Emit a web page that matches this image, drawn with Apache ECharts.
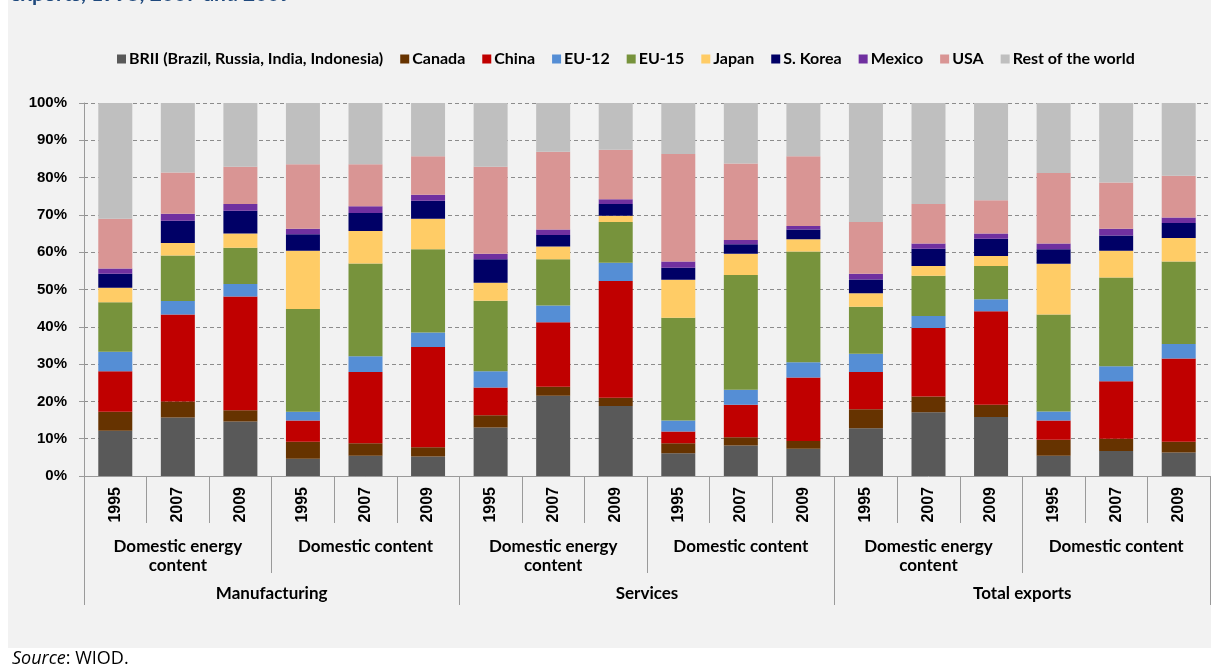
<!DOCTYPE html>
<html>
<head>
<meta charset="UTF-8">
<title>Domestic content of exports</title>
<script type="text/javascript" src="https://cdn.jsdelivr.net/npm/echarts@6/dist/echarts.min.js"></script>
<style>
  html,body{margin:0;padding:0;background:#fff}
</style>
</head>
<body>
<div id="main" style="width:1211px;height:671px"></div>
<script type="text/javascript">
// categories (three levels)
var years = ['1995','2007','2009','1995','2007','2009','1995','2007','2009',
             '1995','2007','2009','1995','2007','2009','1995','2007','2009'];
var contentTypes = ['Domestic energy\ncontent','Domestic content','Domestic energy\ncontent',
                    'Domestic content','Domestic energy\ncontent','Domestic content'];
var sectors = ['Manufacturing','Services','Total exports'];

// shares in %
var brii   = [12.1,15.7,14.6, 4.6, 5.4, 5.2, 13.0,21.5,18.8, 6.1, 8.2, 7.3, 12.8,17.1,15.8, 5.4, 6.7, 6.3];
var canada = [ 5.1, 4.3, 3.0, 4.6, 3.4, 2.5,  3.3, 2.4, 2.2, 2.7, 2.2, 2.1,  5.1, 4.2, 3.3, 4.3, 3.3, 2.9];
var china  = [10.9,23.3,30.5, 5.7,19.1,26.9,  7.4,17.3,31.3, 3.1, 8.7,17.0, 10.0,18.4,25.1, 5.2,15.4,22.3];
var eu12   = [ 5.2, 3.6, 3.4, 2.3, 4.2, 3.9,  4.4, 4.5, 4.9, 3.0, 4.0, 4.1,  4.9, 3.2, 3.2, 2.4, 4.0, 3.9];
var eu15   = [13.3,12.2, 9.7,27.6,24.9,22.3, 18.9,12.4,10.9,27.5,30.8,29.7, 12.6,10.8, 8.9,26.0,23.8,22.1];
var japan  = [ 3.9, 3.4, 3.8,15.6, 8.7, 8.2,  4.8, 3.4, 1.7,10.2, 5.7, 3.3,  3.6, 2.6, 2.7,13.6, 7.2, 6.3];
var korea  = [ 3.7, 5.9, 6.1, 4.4, 4.8, 4.8,  6.3, 3.1, 3.1, 3.2, 2.5, 2.6,  3.7, 4.6, 4.6, 3.9, 4.1, 4.0];
var mexico = [ 1.4, 1.9, 1.8, 1.5, 1.8, 1.6,  1.5, 1.5, 1.3, 1.7, 1.2, 0.9,  1.5, 1.4, 1.4, 1.5, 1.8, 1.5];
var usa    = [13.4,11.1,10.0,17.3,11.3,10.3, 23.3,20.8,13.3,28.8,20.5,18.7, 13.9,10.6, 8.9,18.9,12.4,11.2];
var rest   = [31.0,18.6,17.1,16.4,16.4,14.3, 17.1,13.1,12.5,13.7,16.2,14.3, 31.9,27.1,26.1,18.8,21.3,19.5];

var seriesNames = ['BRII (Brazil, Russia, India, Indonesia)','Canada','China','EU-12','EU-15',
                   'Japan','S. Korea','Mexico','USA','Rest of the world'];
var seriesData = [brii, canada, china, eu12, eu15, japan, korea, mexico, usa, rest];
var colors = ['#595959','#663300','#c00000','#558ed5','#77933c',
              '#ffcc66','#000066','#7030a0','#d99594','#bfbfbf'];

var yTicks = [0,10,20,30,40,50,60,70,80,90,100];

var myChart = echarts.init(document.getElementById('main'));

var series = seriesNames.map(function(name, i){
    return {
        name: name,
        type: 'bar',
        stack: 'share',
        barWidth: 34,
        xAxisIndex: 0,
        itemStyle: {color: colors[i]},
        emphasis: {disabled: true},
        data: seriesData[i]
    };
});

var option = {
    backgroundColor: '#fff',
    color: colors,
    animation: false,
    graphic: [
        {type: 'rect', z: -10, silent: true,
         shape: {x: 8, y: 0, width: 1203, height: 648},
         style: {fill: '#f2f2f2'}},
        {type: 'text', left: 10, top: -16, silent: true,
         style: {text: 'exports, 1995, 2007 and 2009', fill: '#1f497d',
                 font: 'bold 21px Lato, sans-serif'}},
        {type: 'text', left: 12, top: 650, silent: true,
         style: {
             text: '{i|Source}: WIOD.',
             rich: {i: {fontStyle: 'italic', fontFamily: 'Open Sans', fontSize: 18, fill: '#000'}},
             font: '18px "Open Sans", sans-serif', fill: '#000'
         }}
    ],
    legend: {
        top: 46,
        left: 112,
        itemWidth: 9,
        itemHeight: 9,
        itemGap: 17,
        icon: 'rect',
        selectedMode: false,
        textStyle: {fontFamily: 'Lato', fontWeight: 'bold', fontSize: 16, color: '#000', padding: [0,0,0,-2]},
        data: seriesNames
    },
    grid: {left: 84, right: 1, top: 103, bottom: 195},
    yAxis: {
        type: 'value',
        min: 0, max: 100, interval: 10,
        axisLine: {show: true, lineStyle: {color: '#9a9a9a'}},
        axisTick: {show: true, length: 5, lineStyle: {color: '#9a9a9a'}},
        splitLine: {show: true, lineStyle: {color: '#8c8c8c', type: [4,3], width: 1}},
        axisLabel: {
            margin: 17,
            fontFamily: 'Liberation Sans', fontWeight: 'bold', fontSize: 15, color: '#000',
            formatter: function(v){ return yTicks.indexOf(v) >= 0 ? v + '%' : ''; }
        }
    },
    xAxis: [
        {
            type: 'category',
            data: years,
            position: 'bottom',
            axisLine: {show: true, lineStyle: {color: '#9a9a9a'}},
            axisTick: {show: true, interval: 0, length: 47, lineStyle: {color: '#9a9a9a'}},
            axisLabel: {interval: 0, rotate: 90, margin: 11,
                        fontFamily: 'Liberation Sans', fontWeight: 'bold', fontSize: 16, color: '#000'}
        },
        {
            type: 'category',
            data: contentTypes,
            position: 'bottom',
            offset: 0,
            axisLine: {show: false},
            axisTick: {show: true, interval: 0, length: 97, lineStyle: {color: '#9a9a9a'}},
            axisLabel: {interval: 0, margin: 61, lineHeight: 19,
                        fontFamily: 'Lato', fontWeight: 'bold', fontSize: 17, color: '#000'}
        },
        {
            type: 'category',
            data: sectors,
            position: 'bottom',
            offset: 0,
            axisLine: {show: false},
            axisTick: {show: true, interval: 0, length: 129, lineStyle: {color: '#9a9a9a'}},
            axisLabel: {interval: 0, margin: 109,
                        fontFamily: 'Lato', fontWeight: 'bold', fontSize: 17, color: '#000'}
        }
    ],
    series: series
};
myChart.setOption(option);
</script>
</body>
</html>
